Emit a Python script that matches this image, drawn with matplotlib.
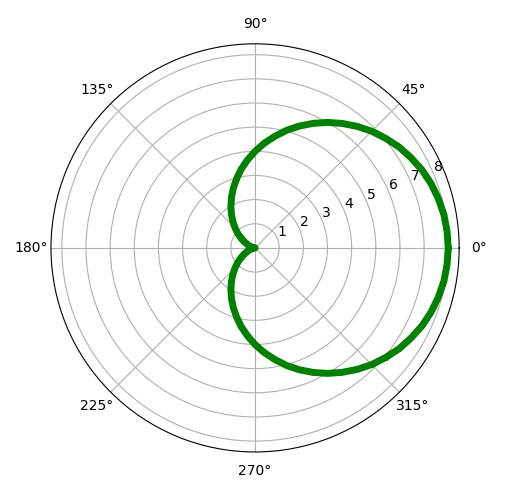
import numpy as np
import matplotlib
matplotlib.use("Agg")
import matplotlib.pyplot as plt

# Winkel in Grad, alle 5 Grad
winkel = list(range(0, 365, 5))
radius = [8.00, 7.98, 7.94, 7.86, 7.76, 7.63, 7.46, 7.28, 7.06, 6.83,
          6.57, 6.29, 6.00, 5.69, 5.37, 5.04, 4.69, 4.35, 4.00, 3.65,
          3.31, 2.96, 2.63, 2.31, 2.00, 1.71, 1.43, 1.17, 0.94, 0.72,
          0.54, 0.37, 0.24, 0.14, 0.06, 0.02, 0.00, 0.02, 0.06, 0.14,
          0.24, 0.37, 0.54, 0.72, 0.94, 1.17, 1.43, 1.71, 2.00, 2.31,
          2.63, 2.96, 3.31, 3.65, 4.00, 4.35, 4.69, 5.04, 5.37, 5.69,
          6.00, 6.29, 6.57, 6.83, 7.06, 7.28, 7.46, 7.63, 7.76, 7.86,
          7.94, 7.98, 8.00]
r_ticks = [1, 2, 3, 4, 5, 6, 7, 8]

fig = plt.figure(figsize=(5.16, 4.96), dpi=100)
ax = fig.add_axes([0.0988, 0.0887, 0.791, 0.823], projection="polar")

theta = np.deg2rad(winkel)
ax.plot(theta, radius, color="green", linewidth=5, solid_capstyle="round")
ax.plot(theta, radius, ".", color="green", markersize=5)
ax.set_rticks(r_ticks)
ax.set_rmax(8.45)
ax.grid(True)

fig.savefig("out.png", dpi=100)
